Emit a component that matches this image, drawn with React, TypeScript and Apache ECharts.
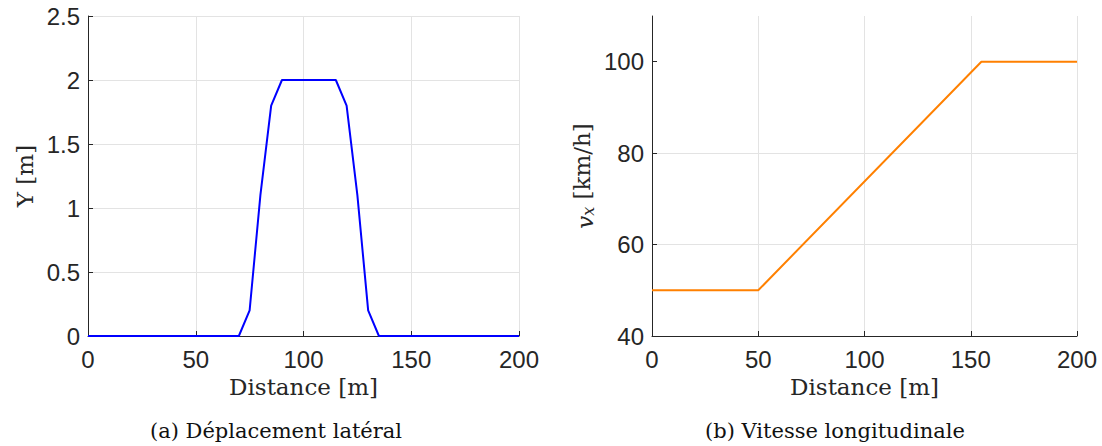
import React, { useEffect, useRef } from "react";
import * as echarts from "echarts";

const distanceA = [0, 70, 75, 80, 85, 90, 115, 120, 125, 130, 135, 200];
const lateralY = [0, 0, 0.2, 1.1, 1.8, 2, 2, 1.8, 1.1, 0.2, 0, 0];
const distanceB = [0, 50, 155, 200];
const speedVx = [50, 50, 100, 100];
const xTicks = [0, 50, 100, 150, 200];
const vxTicks = [40, 60, 80, 100];
const captionA = "(a) Déplacement latéral";
const captionB = "(b) Vitesse longitudinale";

const SANS = "'Liberation Sans', Arial, Helvetica, sans-serif";
const SERIF = "'DejaVu Serif', serif";
const INK = "#262626";

export default function App() {
  const ref = useRef<HTMLDivElement>(null);
  useEffect(() => {
    document.body.style.margin = "0";
    const chart = echarts.init(ref.current!, null, { renderer: "svg" });
    const xAxisBase = (gridIndex: number) => ({
      type: "value" as const,
      gridIndex,
      min: 0,
      max: 200,
      interval: 50,
      name: "Distance [m]",
      nameLocation: "middle" as const,
      nameGap: 36,
      nameTextStyle: { fontFamily: SERIF, fontSize: 23, color: INK },
      axisLine: { show: true, onZero: false, lineStyle: { color: INK, width: 1 } },
      axisTick: { show: true, inside: true, length: 5, lineStyle: { color: INK } },
      axisLabel: { fontFamily: SANS, fontSize: 24, color: INK, margin: 11 },
      splitLine: { show: true, lineStyle: { color: "#e3e3e3", width: 1 } },
    });
    const pairsA = distanceA.map((d, i) => [d, lateralY[i]]);
    const pairsB = distanceB.map((d, i) => [d, speedVx[i]]);
    chart.setOption({
      animation: false,
      backgroundColor: "#ffffff",
      grid: [
        { left: 88, top: 16, width: 431, height: 320 },
        { left: 652, top: 16, width: 425, height: 320 },
      ],
      xAxis: [xAxisBase(0), xAxisBase(1)],
      yAxis: [
        {
          type: "value",
          gridIndex: 0,
          min: 0,
          max: 2.5,
          interval: 0.5,
          name: "Y [m]",
          nameLocation: "middle",
          nameRotate: 90,
          nameGap: 52,
          nameTextStyle: { fontFamily: SERIF, fontSize: 23, color: INK },
          axisLine: { show: true, lineStyle: { color: INK, width: 1 } },
          axisTick: { show: true, inside: true, length: 5, lineStyle: { color: INK } },
          axisLabel: { fontFamily: SANS, fontSize: 24, color: INK, margin: 8 },
          splitLine: { show: true, lineStyle: { color: "#e3e3e3", width: 1 } },
        },
        {
          type: "value",
          gridIndex: 1,
          min: 40,
          max: 110,
          interval: 20,
          name: "{v|v}{s|x} [km/h]",
          nameLocation: "middle",
          nameRotate: 90,
          nameGap: 56,
          nameTextStyle: {
            fontFamily: SERIF,
            fontSize: 23,
            color: INK,
            lineHeight: 28,
            rich: {
              v: { fontFamily: SERIF, fontStyle: "italic", fontSize: 23, lineHeight: 28, color: INK, verticalAlign: "bottom" },
              s: { fontFamily: SERIF, fontStyle: "italic", fontSize: 16, lineHeight: 16, color: INK, verticalAlign: "bottom" },
            },
          },
          axisLine: { show: true, lineStyle: { color: INK, width: 1 } },
          axisTick: { show: true, inside: true, length: 5, lineStyle: { color: INK }, customValues: vxTicks },
          axisLabel: { fontFamily: SANS, fontSize: 24, color: INK, margin: 8, customValues: vxTicks },
          splitLine: { show: true, showMaxLine: false, lineStyle: { color: "#e3e3e3", width: 1 } },
        },
      ],
      series: [
        {
          type: "line",
          xAxisIndex: 0,
          yAxisIndex: 0,
          data: pairsA,
          showSymbol: false,
          lineStyle: { color: "#0000ff", width: 2 },
        },
        {
          type: "line",
          xAxisIndex: 1,
          yAxisIndex: 1,
          data: pairsB,
          showSymbol: false,
          lineStyle: { color: "#ff8000", width: 2 },
        },
      ],
      graphic: [
        {
          type: "text",
          x: 276,
          y: 431,
          style: { text: captionA, fontFamily: SERIF, fontSize: 21, fill: "#111", align: "center", verticalAlign: "middle" },
        },
        {
          type: "text",
          x: 835,
          y: 431,
          style: { text: captionB, fontFamily: SERIF, fontSize: 21, fill: "#111", align: "center", verticalAlign: "middle" },
        },
      ],
    });
    return () => chart.dispose();
  }, []);
  return <div ref={ref} style={{ width: 1102, height: 446 }} data-ticks={xTicks.join(",")} />;
}
